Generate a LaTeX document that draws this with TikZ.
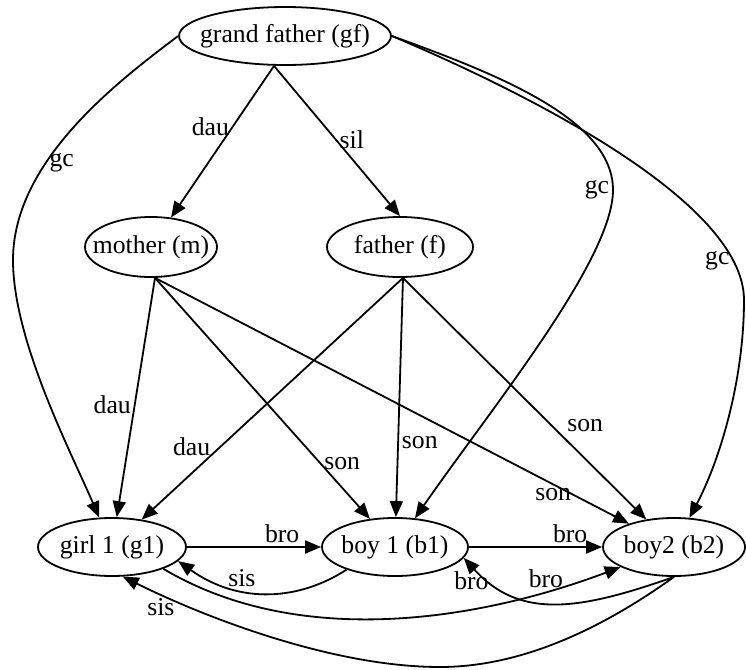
\documentclass[tikz,border=0pt]{standalone}
\usepackage{fontspec}
\setmainfont{Liberation Serif}
\usetikzlibrary{shapes.geometric,arrows.meta}

\tikzset{
  person/.style={draw, ellipse, line width=0.9pt, inner sep=0pt, minimum height=29pt},
  rel/.style={line width=0.9pt, -{Triangle[length=8pt,width=6.5pt]}},
  lbl/.style={inner sep=1.5pt}
}
\newcommand{\who}[1]{\makebox[0pt]{#1}}

\begin{document}
\begin{tikzpicture}[x=0.5pt, y=-0.5pt, font=\fontsize{12.85}{15}\selectfont]
  \useasboundingbox (0,0) rectangle (746,670);
  % people
  \node[person, minimum width=106pt] (gf) at (285,36) {\who{grand father (gf)}};
  \node[person, minimum width=66pt, minimum height=30pt] (m) at (151,247) {\who{mother (m)}};
  \node[person, minimum width=73pt, minimum height=30pt] (f) at (400,247) {\who{father (f)}};
  \node[person, minimum width=74pt] (g1) at (112,547) {\who{girl 1 (g1)}};
  \node[person, minimum width=73pt] (b1) at (395,547) {\who{boy 1 (b1)}};
  \node[person, minimum width=71pt] (b2) at (674,547) {\who{boy2 (b2)}};
  % grand father
  \draw[rel] ([xshift=-5.5pt]gf.south) -- node[lbl, left, pos=0.4] {dau} (m);
  \draw[rel] ([xshift=-5.5pt]gf.south) -- node[lbl, right, pos=0.49] {sil} (f.north);
  \draw[rel] (gf.west) .. controls (120,80) and (13,160) .. (13,260) node[lbl, right, pos=0.65] {gc}
    .. controls (13,340) and (70,450) .. (g1);
  \draw[rel] (gf.east) .. controls (500,75) and (613,120) .. (613,190) node[lbl, left, pos=1] {gc}
    .. controls (613,260) and (490,410) .. (b1);
  \draw[rel] (gf.east) .. controls (520,90) and (744,200) .. (744,300) node[lbl, left, pos=0.87] {gc}
    .. controls (744,380) and (720,460) .. (b2);
  % mother
  \draw[rel] ([xshift=2pt]m.south) -- node[lbl, left, pos=0.53] {dau} (g1);
  \draw[rel] ([xshift=2pt]m.south) -- node[lbl, right, pos=0.77] {son} (b1);
  \draw[rel] ([xshift=2pt]m.south) -- node[lbl, below, pos=0.84] {son} (b2);
  % father
  \draw[rel] ([xshift=1.5pt]f.south) -- node[lbl, left=3pt, pos=0.7] {dau} (g1);
  \draw[rel] ([xshift=1.5pt]f.south) -- node[lbl, right, pos=0.69] {son} (b1);
  \draw[rel] ([xshift=1.5pt]f.south) -- node[lbl, right=6pt, pos=0.61] {son} (b2);
  % siblings
  \draw[rel] (g1) -- node[lbl, above, pos=0.71] {bro} (b1);
  \draw[rel] (b1) -- node[lbl, above, pos=0.76] {bro} (b2);
  \draw[rel] (b1.205) .. controls (300,600) and (240,605) .. (g1.-12) node[lbl, above, pos=0.65] {sis};
  \draw[rel] (g1.-23) .. controls (300,650) and (480,620) .. (b2) node[lbl, above, pos=0.83] {bro};
  \draw[rel] (b2.south) .. controls (580,610) and (520,620) .. (b1.-9) node[lbl, left, pos=0.85, inner sep=0pt] {bro};
  \draw[rel] (b2.south) .. controls (600,630) and (520,667) .. (440,667)
    .. controls (330,667) and (200,615) .. (g1.-70) node[lbl, below, pos=0.85] {sis};
\end{tikzpicture}
\end{document}
